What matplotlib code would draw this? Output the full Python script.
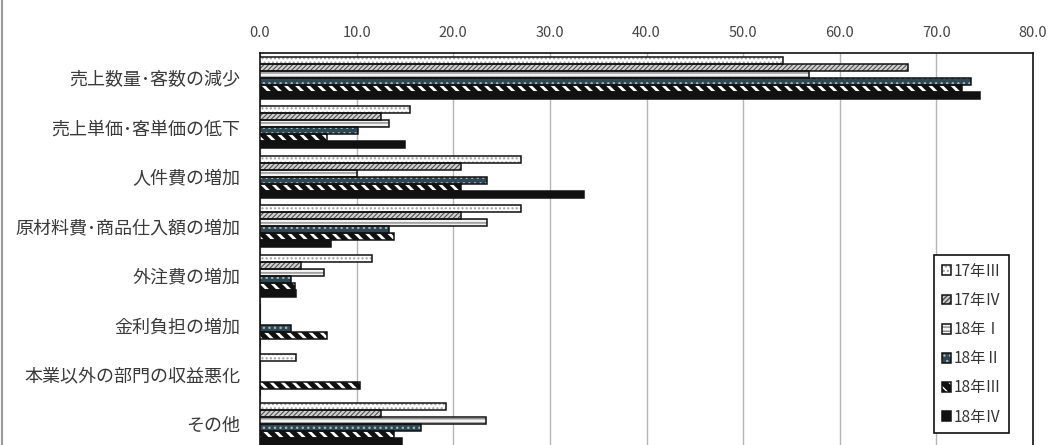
import matplotlib.pyplot as plt
import numpy as np
from matplotlib.lines import Line2D
from matplotlib.patches import Patch

plt.rcParams['font.family'] = ['Noto Sans CJK JP', 'DejaVu Sans']
plt.rcParams['hatch.linewidth'] = 1.0

# 経常利益の減少要因 (%)
categories = ["売上数量･客数の減少", "売上単価･客単価の低下", "人件費の増加",
              "原材料費･商品仕入額の増加", "外注費の増加", "金利負担の増加",
              "本業以外の部門の収益悪化", "その他"]
series_names = ["17年Ⅲ", "17年Ⅳ", "18年Ⅰ", "18年Ⅱ", "18年Ⅲ", "18年Ⅳ"]
v17_3 = [54.1, 15.5, 27.0, 27.0, 11.6, 0.0, 3.7, 19.2]
v17_4 = [67.1, 12.5, 20.8, 20.8, 4.2, 0.0, 0.0, 12.5]
v18_1 = [56.8, 13.4, 10.0, 23.5, 6.6, 0.0, 0.0, 23.4]
v18_2 = [73.6, 10.1, 23.5, 13.4, 3.2, 3.2, 0.0, 16.7]
v18_3 = [72.7, 6.9, 20.8, 13.9, 3.6, 6.9, 10.3, 13.9]
v18_4 = [74.5, 15.0, 33.5, 7.3, 3.7, 0.0, 0.0, 14.7]
series = [v17_3, v17_4, v18_1, v18_2, v18_3, v18_4]

# face colour, hatch colour, hatch, hatch line width
styles = [
    ('white', '#a0a0a0', '....', 1.0),
    ('#d0d0d0', '#505050', '///////', 0.8),
    ('#f2f2f2', '#8a8a8a', '----', 1.0),
    ('#2f4753', '#9fb3bb', '...', 1.0),
    ('#111111', 'white', '\\\\\\', 2.0),
    ('#111111', '#111111', None, 1.0),
]

fig = plt.figure(figsize=(10.49, 4.45), dpi=100)
ax = fig.add_axes([260/1049, 1 - 449/445, 773/1049, 396/445])

y = np.arange(len(categories))
h = 0.14
handles = []
for j, vals in enumerate(series):
    fc, hc, hatch, hlw = styles[j]
    pos = y + (j - 2.5) * h
    with plt.rc_context({'hatch.linewidth': hlw}):
        ax.barh(pos, vals, height=h, color=fc, edgecolor=hc, hatch=hatch, linewidth=0, zorder=3)
        p1 = Patch(facecolor=fc, edgecolor=hc, hatch=hatch, linewidth=0)
    ax.barh(pos, vals, height=h, fill=False, edgecolor='#111111', linewidth=1.1, zorder=4)
    p2 = Patch(fill=False, edgecolor='#111111', linewidth=1.1)
    handles.append((p1, p2))

ax.set_xlim(0, 80)
ax.set_ylim(len(categories) - 0.5, -0.5)
ax.set_xticks(np.arange(0, 81, 10))
ax.set_xticklabels([f"{t:.1f}" for t in np.arange(0, 81, 10)])
ax.xaxis.tick_top()
ax.tick_params(axis='x', length=0, pad=9, labelsize=10.5, labelcolor='#444444')
ax.set_yticks(y)
ax.set_yticklabels(categories)
ax.tick_params(axis='y', length=0, pad=14, labelsize=13, labelcolor='#3a3a3a')
ax.grid(axis='x', color='#b5b5b5', linewidth=1, zorder=0)

for s in ['top', 'right', 'left']:
    ax.spines[s].set_color('#111111')
    ax.spines[s].set_linewidth(1.2)
ax.spines['bottom'].set_visible(False)

leg = ax.legend(handles, series_names, loc='upper right', bbox_to_anchor=(0.969, 0.49),
                fontsize=11, handlelength=0.6, handleheight=0.6, handletextpad=0.2,
                labelspacing=0.8, borderpad=0.5, borderaxespad=0, fancybox=False,
                framealpha=1, edgecolor='#111111')
leg.get_frame().set_linewidth(1.2)
for t in leg.get_texts():
    t.set_color('#333333')

fig.add_artist(Line2D([0.002, 0.002], [0, 1], color='#999999', linewidth=1.5))

plt.savefig("out.png", dpi=100)
